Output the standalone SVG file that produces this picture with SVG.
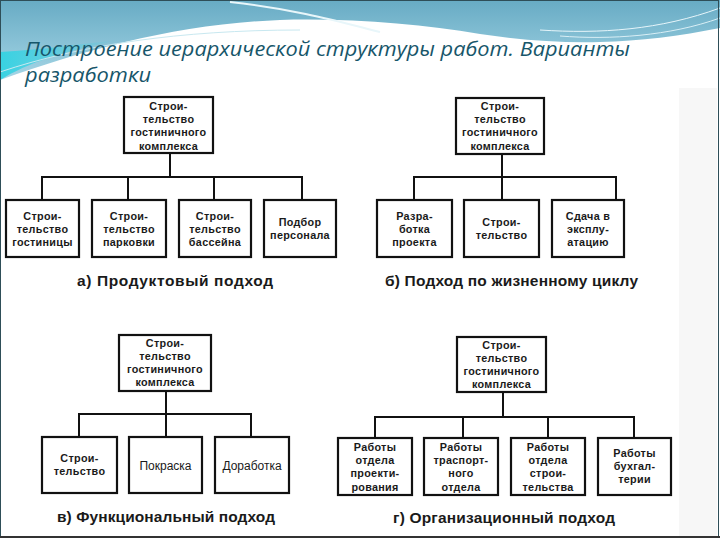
<svg xmlns="http://www.w3.org/2000/svg" width="720" height="540" viewBox="0 0 720 540">
<defs>
<style>
.box{fill:#fff;stroke:#111;stroke-width:2.2}
.conn line{stroke:#111;stroke-width:2}
.t{font-family:"Liberation Sans",Arial,sans-serif;font-weight:bold;font-size:10.8px;fill:#1a1a1a;text-anchor:middle;letter-spacing:0.3px}
.r{font-family:"Liberation Sans",Arial,sans-serif;font-size:12px;fill:#1a1a1a;text-anchor:middle}
.cap{font-family:"Liberation Sans",Arial,sans-serif;font-weight:bold;font-size:15.5px;fill:#1a1a1a}
.title{font-family:"Open Sans","Liberation Sans",sans-serif;font-style:italic;font-size:20px;fill:#17566a}
</style>
<linearGradient id="sky" x1="0" y1="0" x2="0" y2="1">
<stop offset="0" stop-color="#67abc4"/>
<stop offset="1" stop-color="#a6d6e6"/>
</linearGradient>
<linearGradient id="cy" x1="0" y1="0" x2="1" y2="0">
<stop offset="0" stop-color="#38d2e2"/>
<stop offset="1" stop-color="#38d2e2" stop-opacity="0"/>
</linearGradient>
</defs>
<rect width="720" height="540" fill="#fff"/>
<path d="M0,0 H720 V28 C680,36 640,41 600,42 C560,43 520,40 480,34 C420,24 350,18 280,20 C180,24 90,48 0,80 Z" fill="url(#sky)"/>
<path d="M0,52 C40,50 80,44 120,40 C60,52 30,62 0,80 Z" fill="url(#cy)"/>
<path d="M720,8 C660,30 600,34 540,30" fill="none" stroke="#e6f5fa" stroke-width="1"/>
<path d="M720,18 C670,36 610,40 560,36" fill="none" stroke="#d8eef5" stroke-width="1"/>
<path d="M230,2 C300,10 340,22 380,32" fill="none" stroke="#e8f6fa" stroke-width="2"/>
<path d="M0,72 C80,45 180,30 300,30" fill="none" stroke="#c8e8f0" stroke-width="1"/>
<rect x="679" y="88" width="38" height="449" fill="#f7f7f7"/>
<rect x="0.5" y="0.5" width="718" height="537" fill="none" stroke="#2e4e58" stroke-width="1"/>
<line x1="0" y1="537" x2="720" y2="537" stroke="#333" stroke-width="2"/>
<text class="title" x="25" y="56" textLength="605" lengthAdjust="spacingAndGlyphs">Построение иерархической структуры работ. Варианты</text>
<text class="title" x="25" y="82" textLength="126" lengthAdjust="spacingAndGlyphs">разработки</text>

<g class="conn" id="connectors">
<line x1="170" y1="153" x2="170" y2="177"/>
<line x1="41" y1="177" x2="303" y2="177"/>
<line x1="42" y1="176" x2="42" y2="200"/>
<line x1="128" y1="176" x2="128" y2="200"/>
<line x1="214" y1="176" x2="214" y2="200"/>
<line x1="302" y1="176" x2="302" y2="200"/>
<line x1="502" y1="154" x2="502" y2="200"/>
<line x1="413" y1="177" x2="617" y2="177"/>
<line x1="414" y1="176" x2="414" y2="200"/>
<line x1="616" y1="176" x2="616" y2="200"/>
<line x1="166" y1="391" x2="166" y2="437"/>
<line x1="78" y1="414" x2="252" y2="414"/>
<line x1="79" y1="413" x2="79" y2="437"/>
<line x1="251" y1="413" x2="251" y2="437"/>
<line x1="503" y1="392" x2="503" y2="417"/>
<line x1="374" y1="417" x2="635" y2="417"/>
<line x1="375" y1="416" x2="375" y2="438"/>
<line x1="463" y1="416" x2="463" y2="438"/>
<line x1="548" y1="416" x2="548" y2="438"/>
<line x1="634" y1="416" x2="634" y2="438"/>
</g>

<g id="a-root"><rect class="box" x="124" y="97" width="89" height="56"/>
<text class="t" x="168.5" y="110">Строи-</text><text class="t" x="168.5" y="123.2">тельство</text><text class="t" x="168.5" y="136.4">гостиничного</text><text class="t" x="168.5" y="149.6">комплекса</text></g>
<g id="a-1"><rect class="box" x="6" y="200" width="73" height="57"/>
<text class="t" x="42.5" y="220">Строи-</text><text class="t" x="42.5" y="232.8">тельство</text><text class="t" x="42.5" y="246">гостиницы</text></g>
<g id="a-2"><rect class="box" x="92" y="200" width="74" height="57"/>
<text class="t" x="129" y="220">Строи-</text><text class="t" x="129" y="232.8">тельство</text><text class="t" x="129" y="246">парковки</text></g>
<g id="a-3"><rect class="box" x="179" y="200" width="72" height="57"/>
<text class="t" x="215" y="220">Строи-</text><text class="t" x="215" y="232.8">тельство</text><text class="t" x="215" y="246">бассейна</text></g>
<g id="a-4"><rect class="box" x="264" y="200" width="72" height="57"/>
<text class="t" x="300" y="226">Подбор</text><text class="t" x="300" y="239">персонала</text></g>
<text class="cap" x="77" y="286" textLength="196">а) Продуктовый подход</text>

<g id="b-root"><rect class="box" x="456" y="98" width="88" height="56"/>
<text class="t" x="500" y="110">Строи-</text><text class="t" x="500" y="123.2">тельство</text><text class="t" x="500" y="136.4">гостиничного</text><text class="t" x="500" y="149.6">комплекса</text></g>
<g id="b-1"><rect class="box" x="377" y="200" width="75" height="57"/>
<text class="t" x="414.5" y="220">Разра-</text><text class="t" x="414.5" y="232.8">ботка</text><text class="t" x="414.5" y="246">проекта</text></g>
<g id="b-2"><rect class="box" x="464" y="200" width="75" height="57"/>
<text class="t" x="501.5" y="226">Строи-</text><text class="t" x="501.5" y="239">тельство</text></g>
<g id="b-3"><rect class="box" x="552" y="200" width="72" height="57"/>
<text class="t" x="588" y="220">Сдача в</text><text class="t" x="588" y="232.8">эксплу-</text><text class="t" x="588" y="246">атацию</text></g>
<text class="cap" x="385" y="286" textLength="253">б) Подход по жизненному циклу</text>

<g id="c-root"><rect class="box" x="119" y="335" width="92" height="56"/>
<text class="t" x="165" y="347">Строи-</text><text class="t" x="165" y="360">тельство</text><text class="t" x="165" y="373">гостиничного</text><text class="t" x="165" y="386">комплекса</text></g>
<g id="c-1"><rect class="box" x="42" y="437" width="75" height="56"/>
<text class="t" x="79.5" y="462">Строи-</text><text class="t" x="79.5" y="475">тельство</text></g>
<g id="c-2"><rect class="box" x="129" y="437" width="73" height="56"/>
<text class="r" x="165.5" y="470">Покраска</text></g>
<g id="c-3"><rect class="box" x="215" y="437" width="74" height="56"/>
<text class="r" x="252" y="470">Доработка</text></g>
<text class="cap" x="57" y="522" textLength="218">в) Функциональный подход</text>

<g id="d-root"><rect class="box" x="457" y="337" width="89" height="55"/>
<text class="t" x="501.5" y="349">Строи-</text><text class="t" x="501.5" y="362">тельство</text><text class="t" x="501.5" y="375.2">гостиничного</text><text class="t" x="501.5" y="388.4">комплекса</text></g>
<g id="d-1"><rect class="box" x="338" y="438" width="74" height="57"/>
<text class="t" x="375" y="451">Работы</text><text class="t" x="375" y="463.6">отдела</text><text class="t" x="375" y="477.2">проекти-</text><text class="t" x="375" y="490.8">рования</text></g>
<g id="d-2"><rect class="box" x="424" y="438" width="74" height="57"/>
<text class="t" x="461" y="451">Работы</text><text class="t" x="461" y="464">траспорт-</text><text class="t" x="461" y="477.2">ного</text><text class="t" x="461" y="490.8">отдела</text></g>
<g id="d-3"><rect class="box" x="511" y="438" width="74" height="57"/>
<text class="t" x="548" y="451">Работы</text><text class="t" x="548" y="463.6">отдела</text><text class="t" x="548" y="477.2">строи-</text><text class="t" x="548" y="490.8">тельства</text></g>
<g id="d-4"><rect class="box" x="598" y="438" width="73" height="57"/>
<text class="t" x="634.5" y="457">Работы</text><text class="t" x="634.5" y="470">бухгал-</text><text class="t" x="634.5" y="483">терии</text></g>
<text class="cap" x="393" y="523" textLength="222">г) Организационный подход</text>
</svg>
